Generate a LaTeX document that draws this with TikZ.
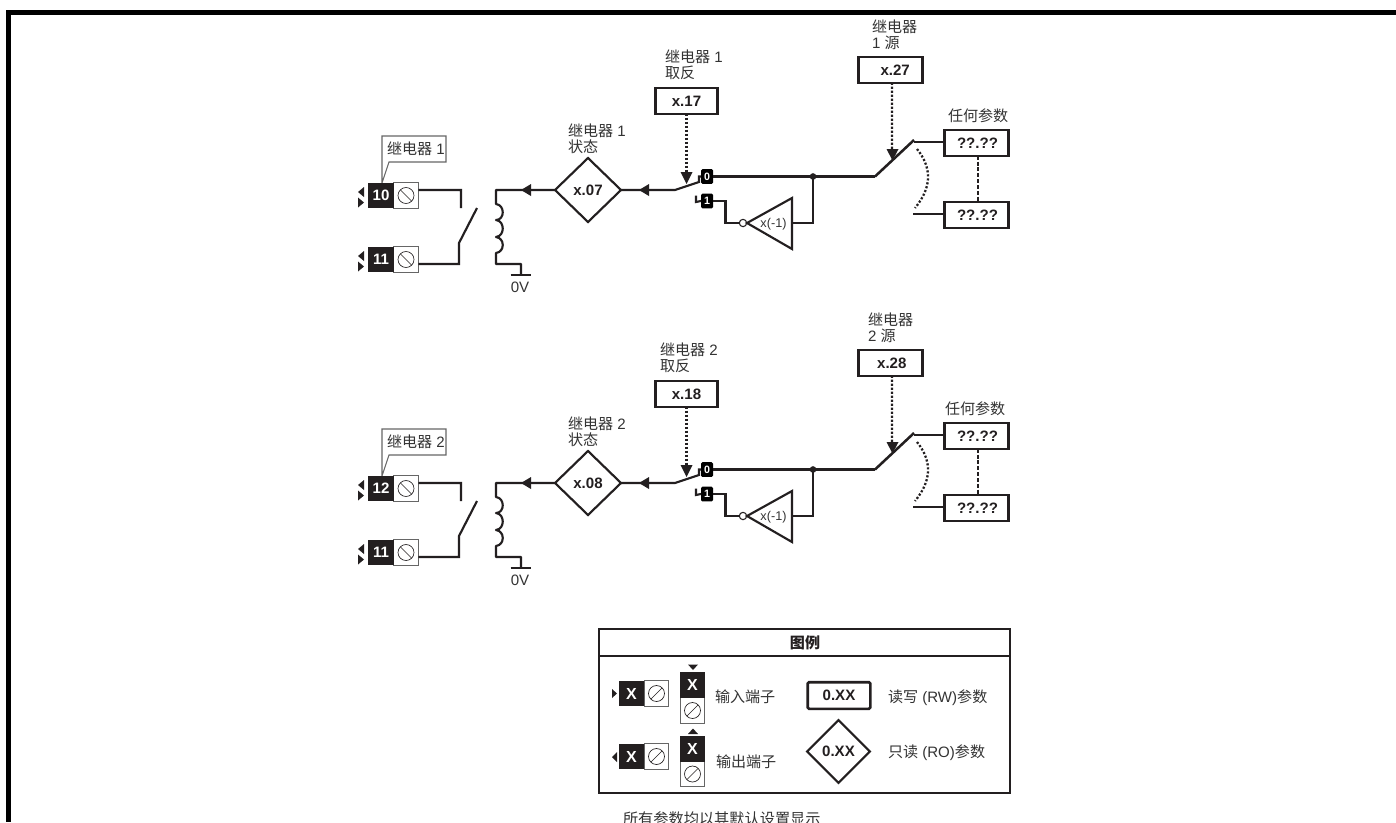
\documentclass[tikz,border=0pt]{standalone}
\usepackage{fontspec}
\setmainfont{Liberation Sans}
\newfontfamily\cjk{Noto Sans CJK SC}
\usetikzlibrary{shapes.geometric,calc}
\definecolor{ink}{HTML}{231F20}
\definecolor{txt}{HTML}{333333}
\definecolor{edge}{HTML}{666666}
\tikzset{
  wire/.style={draw=ink,line width=1.6pt,line join=miter},
  dots/.style={draw=ink,line width=1.7pt,dash pattern=on 1.6pt off 1.4pt},
  dashln/.style={draw=ink,line width=1.7pt,dash pattern=on 3pt off 1.4pt},
  lbl/.style={inner sep=0pt,outer sep=0pt,text=txt,font=\fontsize{11.3}{12}\selectfont,align=left},
  rw/.style={draw=ink,line width=1.6pt,fill=white,minimum width=48pt,minimum height=19pt,inner sep=0pt,outer sep=0pt,text=ink,font=\fontsize{11.3}{12}\selectfont\bfseries},
  ro/.style={diamond,draw=ink,line width=1.6pt,fill=white,minimum width=49.5pt,minimum height=48pt,inner sep=0pt,outer sep=0pt,text=ink,font=\fontsize{11.3}{12}\selectfont\bfseries},
  blk/.style={fill=ink,minimum width=19pt,minimum height=19pt,inner sep=0pt,outer sep=0pt,text=white,font=\fontsize{11.3}{12}\selectfont\bfseries},
  wht/.style={draw=edge,line width=.8pt,fill=white,minimum width=18.5pt,minimum height=19pt,inner sep=0pt,outer sep=0pt},
  screw/.style={circle,draw=ink,line width=.5pt,minimum size=12pt,inner sep=0pt,outer sep=0pt},
  sel/.style={fill=black,rounded corners=1pt,minimum width=9pt,minimum height=11pt,inner sep=0pt,outer sep=0pt,text=white,font=\fontsize{8}{8}\selectfont\bfseries},
  head/.style={fill=ink,draw=none},
}
% horizontal terminal: name, x, y (centre of black part), text
\newcommand{\hterm}[4]{%
  \node[wht] (w#1) at (#2+25,#3) {};
  \node[blk] (b#1) at (#2,#3) {#4};
  \node[screw] (s#1) at (w#1.center) {};
}
\newcommand{\relayblock}[9]{%
\begin{scope}[yshift=-#1*0.75pt]
  % callout
  \draw[edge,line width=.8pt] (382,136) -- (446,136) -- (446,162) -- (389,162) -- (382,183) -- cycle;
  \node[lbl,anchor=west] (tag#3) at (387,149) {{\cjk 继电器} #3};
  % terminals
  \hterm{a#3}{381}{195.5}{#2}
  \hterm{c#3}{381}{259.5}{11}
  \draw[ink,line width=.5pt] ($(sa#3.center)+(-4.2pt,4.2pt)$) -- ($(sa#3.center)+(4.2pt,-4.2pt)$);
  \draw[ink,line width=.5pt] ($(sc#3.center)+(-4.2pt,4.2pt)$) -- ($(sc#3.center)+(4.2pt,-4.2pt)$);
  \foreach \yy in {187,251} {
    \fill[head] (364,\yy) -- (358,\yy+5) -- (364,\yy+10) -- cycle;
    \fill[head] (358,\yy+10.5) -- (364,\yy+15.5) -- (358,\yy+20.5) -- cycle;
  }
  % contacts
  \draw[wire] ([yshift=4.1pt]wa#3.east) -- (461,190) -- (461,208);
  \draw[wire] ([yshift=-3.4pt]wc#3.east) -- (459,264) -- (459,243) -- (477,208);
  % status
  \node[ro] (st#3) at (588,190) {#4};
  \node[lbl,anchor=west] (stl#3) at (568,139) {{\cjk 继电器} #3\\[0pt]{\cjk 状态}};
  % coil
  \coordinate (g#3) at (521,275);
  \draw[wire,line join=round] (st#3.west) -- (496,190) -- (496,204)
     .. controls (505,205) and (505,220) .. (496,220)
     .. controls (505,221) and (505,236) .. (496,237)
     .. controls (505,238) and (505,252) .. (496,253)
     -- (496,264) -- (521,264) -- (g#3);
  \draw[wire] (510.5,275) -- (531,275);
  \node[lbl,anchor=center] (zv#3) at (520,287) {0V};
  \fill[head] (521,190) -- (531,184) -- (531,196) -- cycle;
  % selector
  \node[sel] (z#3) at (707,176.5) {0};
  \node[sel] (o#3) at (707,201) {1};
  \draw[wire] (st#3.east) -- (675,190) -- (699,182) -- (699,176.5) -- (z#3.west);
  \draw[wire] (696,195.5) -- (696,202) -- (o#3.west);
  \fill[head] (639,190) -- (649,184) -- (649,196) -- cycle;
  % inverter
  \node[rw,minimum width=46.5pt] (inv#3) at (686.5,101) {#5};
  \node[lbl,anchor=west] (invl#3) at (#7,65) {{\cjk 继电器} #3\\[0pt]{\cjk 取反}};
  \coordinate (ih#3) at (686.5,172);
  \draw[dots] (inv#3.south) -- (ih#3);
  \fill[head] (680.5,172) -- (692.5,172) -- (686.5,184) -- cycle;
  \node[circle,draw=ink,line width=.8pt,fill=white,minimum size=5.5pt,inner sep=0pt,outer sep=0pt] (bub#3) at (743,223) {};
  \draw[wire] (o#3.east) -- (725.5,201) -- (725.5,223) -- (bub#3.west);
  \draw[wire] (747,223) -- (792,198) -- (792,249) -- cycle;
  \node[lbl,font=\fontsize{9.5}{10}\selectfont] (xm#3) at (773.5,224) {x(-1)};
  \coordinate (j#3) at (813,176.5);
  \draw[wire] (792,223) -- (813,223) -- (j#3);
  \fill[ink] (j#3) circle (2.5pt);
  % source switch
  \coordinate (sw#3) at (875,176.5);
  \coordinate (tip#3) at (914,140);
  \draw[wire] (z#3.east) -- (sw#3);
  \draw[wire,line width=1.9pt] (sw#3) -- (tip#3);
  \node[rw] (src#3) at (890.5,70) {#6};
  \node[lbl,anchor=west] (srcl#3) at (#8,35) {{\cjk 继电器}\\[0pt]#3 {\cjk 源}};
  \coordinate (sh#3) at (892,149);
  \draw[dots] ($(src#3.south)+(1.1pt,0)$) -- (sh#3);
  \fill[head] (886.5,149) -- (898.5,149) -- (892.5,160.5) -- cycle;
  % any parameter
  \node[lbl,anchor=west] (anyl#3) at (#9,116) {{\cjk 任何参数}};
  \node[rw] (p#3) at (976.5,143) {\hspace{1.5pt}??.??};
  \node[rw] (q#3) at (976.5,215) {\hspace{1.5pt}??.??};
  \draw[dashln] ($(p#3.south)+(1.1pt,0)$) -- ($(q#3.north)+(1.1pt,0)$);
  \draw[ink,line width=1.3pt] (914,142) -- ([yshift=.75pt]p#3.west);
  \draw[ink,line width=1.3pt] (913,214) -- ([yshift=.75pt]q#3.west);
  \draw[dots] (917,149) .. controls (930,165) and (934,185) .. (915,208);
\end{scope}}
\begin{document}
\begin{tikzpicture}[x=0.75pt,y=-0.75pt]
\useasboundingbox (0,0) rectangle (1396,822);
\fill[white] (0,0) rectangle (1396,822);
\fill[black] (6,10) rectangle (1396,15);
\fill[black] (6,10) rectangle (11,822);
\relayblock{0}{10}{1}{x.07}{x.17}{\hspace{7pt}x.27}{665}{872}{948}
\relayblock{293}{12}{2}{x.08}{x.18}{\hspace{2pt}x.28}{660}{868}{945}
% legend
\node[draw=ink,line width=1.6pt,minimum width=308pt,minimum height=123pt,inner sep=0pt,outer sep=0pt] (legend) at (804.5,711) {};
\coordinate (hl) at (599,656);
\coordinate (hr) at (1010,656);
\draw[ink,line width=1.2pt] (hl) -- (hr);
\node[lbl,text=ink,font=\fontsize{11.3}{12}\selectfont\bfseries] (ltitle) at (805,643) {{\cjk\bfseries 图例}};
% legend terminals
\hterm{i}{631.5}{693.5}{\fontsize{12}{12}\selectfont X}
\draw[ink,line width=.5pt] ($(si.center)+(-4.2pt,-4.2pt)$) -- ($(si.center)+(4.2pt,4.2pt)$);
\fill[head] (612,689) -- (617,693.5) -- (612,698) -- cycle;
\hterm{o}{631.5}{756.5}{\fontsize{12}{12}\selectfont X}
\draw[ink,line width=.5pt] ($(so.center)+(-4.2pt,-4.2pt)$) -- ($(so.center)+(4.2pt,4.2pt)$);
\fill[head] (617,752) -- (612,757) -- (617,762) -- cycle;
\node[wht] (vwi) at (692.5,710.5) {};
\node[blk] (vbi) at (692.5,685) {\fontsize{12}{12}\selectfont X};
\node[screw] (vsi) at (vwi.center) {};
\draw[ink,line width=.5pt] ($(vsi.center)+(-4.2pt,-4.2pt)$) -- ($(vsi.center)+(4.2pt,4.2pt)$);
\fill[head] (688,664.5) -- (698,664.5) -- (693,670) -- cycle;
\node[wht] (vwo) at (692.5,774) {};
\node[blk] (vbo) at (692.5,749) {\fontsize{12}{12}\selectfont X};
\node[screw] (vso) at (vwo.center) {};
\draw[ink,line width=.5pt] ($(vso.center)+(-4.2pt,-4.2pt)$) -- ($(vso.center)+(4.2pt,4.2pt)$);
\fill[head] (688,734) -- (698,734) -- (693,728.5) -- cycle;
\node[lbl,anchor=west] (lin) at (715,697) {{\cjk 输入端子}};
\node[lbl,anchor=west] (lout) at (716,762) {{\cjk 输出端子}};
\node[rw,rounded corners=1pt,minimum width=47pt,minimum height=20pt,line width=2pt] (lrw) at (839,695.5) {0.XX};
\node[ro,minimum width=47pt,minimum height=47pt] (lro) at (838.5,751.5) {0.XX};
\node[lbl,anchor=west] (lrwt) at (888,698) {{\cjk 读写} (RW){\cjk 参数}};
\node[lbl,anchor=west] (lrot) at (888,753) {{\cjk 只读} (RO){\cjk 参数}};
\node[lbl,anchor=west,font=\fontsize{11.4}{12}\selectfont] (foot) at (623,818.5) {{\cjk 所有参数均以其默认设置显示}};
\end{tikzpicture}
\end{document}
